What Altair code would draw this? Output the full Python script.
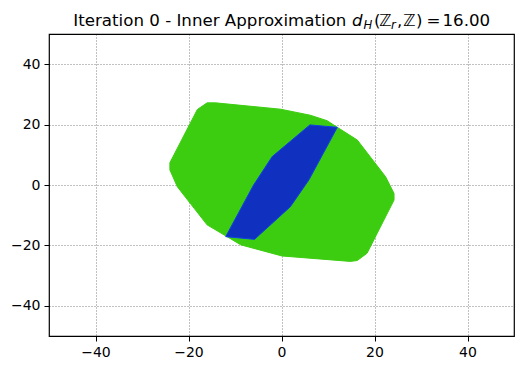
import altair as alt
import pandas as pd

# Outer zonotope (green) vertices
zx = [-16.0, -18.1, -24.0, -24.0, -22.4, -16.0, -11.7, -8.8, 0.1, 14.8, 16.3, 18.4, 24.2, 24.2, 22.4, 16.3, 12.0, 9.8, 6.2, -0.2, -14.2]
zy = [27.2, 25.0, 7.4, 5.0, -0.6, -13.2, -17.1, -19.8, -23.5, -25.3, -25.0, -22.6, -5.0, -2.8, 2.7, 14.9, 19.1, 21.3, 23.1, 25.1, 27.2]

# Inner approximation (blue) vertices
rx = [6.1, 12.0, 5.9, 1.9, -5.8, -12.0, -6.0, -2.0]
ry = [19.9, 19.1, 1.7, -7.2, -18.0, -17.1, 0.0, 9.4]

ticks = [-40, -20, 0, 20, 40]

# Title pieces (text, italic?, subscript?)
title_text = ["Iteration 0 - Inner Approximation", "d", "H", "(", "ℤ", "r", ",", "ℤ", ")", "=", "16.00"]
title_italic = [False, True, True, False, False, True, False, False, False, False, False]
title_sub = [False, False, True, False, False, True, False, False, False, False, False]
title_px = [24.3, 303, 314.5, 325, 330, 342, 348, 354, 367, 377.5, 393.5]

W, H = 465, 302


def poly(xs, ys):
    xs = list(xs) + [xs[0]]
    ys = list(ys) + [ys[0]]
    return pd.DataFrame({"x": xs, "y": ys, "o": list(range(len(xs)))})


xs = alt.Scale(domain=[-50, 50], nice=False, zero=False)
ys = alt.Scale(domain=[-50, 50], nice=False, zero=False)


def layer(df, fill, stroke):
    return alt.Chart(df).mark_line(fill=fill, stroke=stroke, strokeWidth=1, interpolate="linear").encode(
        x=alt.X("x:Q", scale=xs, axis=alt.Axis(values=ticks, title=None)),
        y=alt.Y("y:Q", scale=ys, axis=alt.Axis(values=ticks, title=None)),
        order="o:O",
    )


green = layer(poly(zx, zy), "#3ccd10", "#3ccd10")
blue = layer(poly(rx, ry), "#1030c0", "#1040e8")

tdf = pd.DataFrame({"t": title_text, "it": title_italic, "sub": title_sub, "px": title_px})
tdf["py"] = [-4.6 if s else -8.3 for s in title_sub]
tdf["sz"] = [11.7 if s else 16.67 for s in title_sub]


def tlayer(italic):
    d = tdf[tdf["it"] == italic]
    return alt.Chart(d).mark_text(
        align="left", baseline="alphabetic", font="DejaVu Sans",
        fontStyle="italic" if italic else "normal", color="black",
    ).encode(
        x=alt.X("px:Q", scale=None, axis=None),
        y=alt.Y("py:Q", scale=None, axis=None),
        text="t:N",
        size=alt.Size("sz:Q", scale=None, legend=None),
    )


chart = alt.layer(green, blue, tlayer(False), tlayer(True)).properties(
    width=W, height=H,
    autosize=alt.AutoSizeParams(type="none"),
    padding={"left": 41, "top": 26, "right": 5, "bottom": 30},
).configure_view(stroke="black", strokeWidth=1.2).configure_axis(
    grid=True, gridColor="black", gridDash=[1, 2], gridWidth=0.7, gridOpacity=0.7,
    domain=False, tickColor="black", tickSize=5, tickWidth=1,
    labelFont="DejaVu Sans", labelFontSize=14, labelColor="black", labelPadding=4,
    zindex=1,
)

chart.save("out.html", embed_options={"renderer": "svg", "actions": False})
